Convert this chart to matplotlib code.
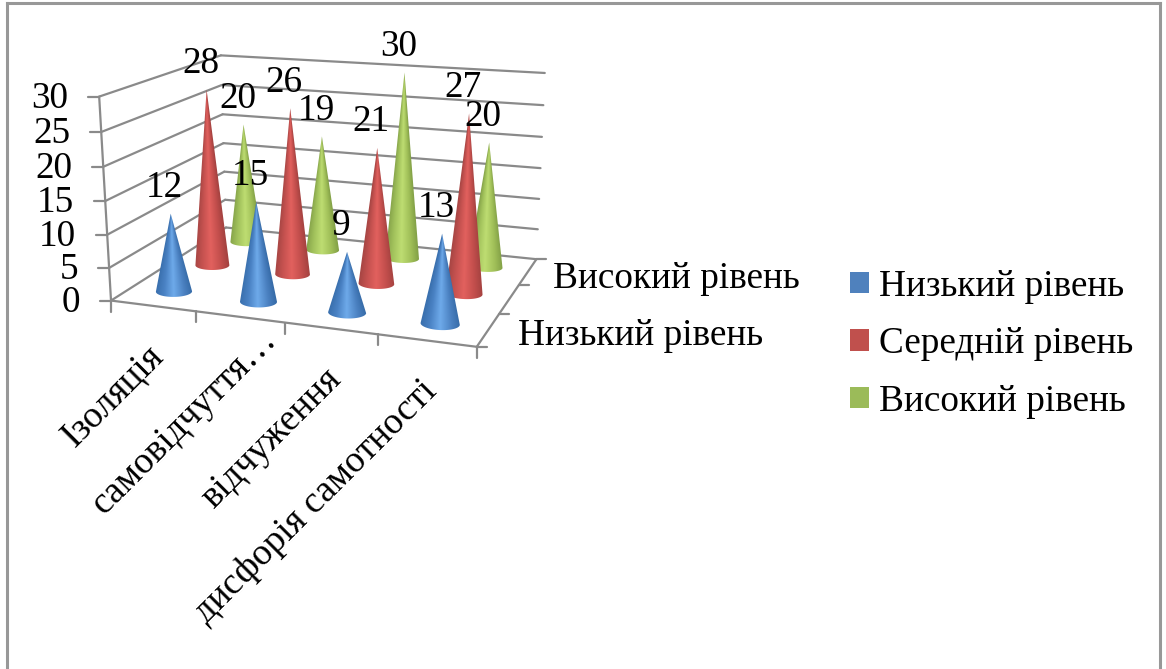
import matplotlib
matplotlib.use('Agg')
import matplotlib.pyplot as plt
import numpy as np
from matplotlib.colors import LinearSegmentedColormap
from matplotlib.patches import Patch, Polygon

# Data
categories = ['Ізоляція', 'самовідчуття…', 'відчуження', 'дисфорія самотності']
series_names = ['Низький рівень', 'Середній рівень', 'Високий рівень']
low = [12, 15, 9, 13]
mid = [28, 26, 21, 27]
high = [20, 19, 30, 20]
z_ticks = [0, 5, 10, 15, 20, 25, 30]

plt.rcParams['font.family'] = ['Liberation Serif', 'DejaVu Serif']
FS = 26.8
GRID = '#8a8a8a'

# camera: fit a projective matrix from the box corners seen in the picture
box_3d = [(0, 0, 0), (4, 0, 0), (4, 3, 0), (0, 3, 0), (0, 0, 30), (0, 3, 30), (4, 3, 30)]
box_px = [(110, 300), (477, 347), (536, 259), (227, 228), (100, 97), (220, 55), (545, 73)]
A = []
b = []
for (x, y, z), (u, v) in zip(box_3d, box_px):
    A.append([x, y, z, 1, 0, 0, 0, 0, -u * x, -u * y, -u * z])
    b.append(u)
    A.append([0, 0, 0, 0, x, y, z, 1, -v * x, -v * y, -v * z])
    b.append(v)
P = np.append(np.linalg.lstsq(np.array(A, float), np.array(b, float), rcond=None)[0], 1).reshape(3, 4)


def proj(x, y, z):
    h = P @ np.array([x, y, z, 1.0])
    return h[0] / h[2], h[1] / h[2]


def seg(ax, p, q, lw=1.6, z=2):
    ax.plot([p[0], q[0]], [p[1], q[1]], color=GRID, lw=lw, zorder=z, solid_capstyle='round')


def cone(ax, cx, cy, val, stops, order):
    t = np.linspace(0, 2 * np.pi, 121)[:-1]
    ring = np.array([proj(cx + 0.2 * np.cos(a), cy + 0.18 * np.sin(a), 0) for a in t])
    apex = proj(cx, cy, val)
    il, ir = ring[:, 0].argmin(), ring[:, 0].argmax()
    lo = [p for p in ring if p[1] >= ring[il][1] + (ring[ir][1] - ring[il][1]) * (p[0] - ring[il][0]) / (ring[ir][0] - ring[il][0])]
    lo = sorted(lo, key=lambda p: -p[0])
    poly = np.array([apex, ring[ir]] + lo + [ring[il]])
    base = ring.mean(axis=0)
    hw = (ring[ir][0] - ring[il][0]) / 2
    x0, x1 = poly[:, 0].min() - 1, poly[:, 0].max() + 1
    y0, y1 = poly[:, 1].min() - 1, poly[:, 1].max() + 1
    xs, ys = np.meshgrid(np.linspace(x0, x1, 160), np.linspace(y0, y1, 320))
    f = np.clip((ys - apex[1]) / (base[1] - apex[1]), 0.01, 1)
    u = (xs - (apex[0] + f * (base[0] - apex[0]))) / (f * hw)
    cmap = LinearSegmentedColormap.from_list('c', list(zip([0, 0.22, 0.48, 0.78, 1], stops)))
    im = ax.imshow(cmap(np.clip((u + 1) / 2, 0, 1)), extent=(x0, x1, y1, y0), aspect='auto',
                   zorder=order, interpolation='bilinear')
    patch = Polygon(poly, closed=True, transform=ax.transData, fc='none', ec='none')
    ax.add_patch(patch)
    im.set_clip_path(patch)
    return apex


fig = plt.figure(figsize=(11.66, 6.69), dpi=100)
ax = fig.add_axes([0, 0, 1, 1])
ax.axis('off')

# walls
for v in z_ticks:
    a, b2, c = proj(0, 0, v), proj(0, 3, v), proj(4, 3, v)
    seg(ax, a, b2)
    seg(ax, b2, c)
    seg(ax, a, (a[0] - 11, a[1]))
    ax.text(a[0] - 31, a[1] + 2, str(v), ha='right', va='center', fontsize=FS, zorder=30)
seg(ax, proj(0, 0, 0), proj(0, 0, 30))

# floor edges and ticks
seg(ax, proj(0, 0, 0), proj(4, 0, 0))
seg(ax, proj(4, 0, 0), proj(4, 3, 0))
for i in range(5):
    p = proj(i, 0, 0)
    seg(ax, p, (p[0], p[1] + 11))
for j in range(4):
    p = proj(4, j, 0)
    seg(ax, p, (p[0] + 10, p[1]))

# category labels, the cut one sits further along its slope
for i, name in enumerate(categories):
    p = proj(i + 0.5, 0, 0)
    slide = 27 if i == 1 else 0
    ax.text(p[0] - 7 + slide, p[1] + 33 - slide, name, rotation=45, rotation_mode='anchor',
            ha='right', va='top', fontsize=FS, zorder=30)

# series labels, the middle one is skipped
for j in (0, 2):
    p = proj(4, j + 0.5, 0)
    ax.text(p[0] + (30 if j == 0 else 25), p[1] + (6 if j == 0 else 7), series_names[j],
            ha='left', va='center', fontsize=FS, zorder=30)

# cones, back row first
stops = [
    ['#3a70ae', '#4a82c4', '#6eaaea', '#4a80c0', '#356aa6'],
    ['#a84644', '#c65250', '#e2615e', '#c24e4c', '#a44240'],
    ['#86a44a', '#a2c25c', '#bedd72', '#a0bf58', '#82a046'],
]
rows = [low, mid, high]
labels = []
for j in (2, 1, 0):
    for i in range(4):
        tip = cone(ax, i + 0.5, j + 0.5, rows[j][i], stops[j], 10 + (2 - j))
        labels.append((tip, rows[j][i]))
for tip, v in labels:
    ax.text(tip[0] - 6, tip[1] - 26, str(v), ha='center', va='center', fontsize=FS, zorder=31)

# legend
handles = [Patch(fc=c, ec='none') for c in ('#4f81bd', '#c0504d', '#9bbb59')]
ax.legend(handles, series_names, loc='center left', bbox_to_anchor=(850 / 1166, 1 - 344 / 669),
          frameon=False, fontsize=FS, handlelength=0.52, handleheight=0.52, handletextpad=0.27,
          labelspacing=0.62, borderpad=0, borderaxespad=0)

# chart frame, bottom edge is cut off
for p, q in [((7, 669), (7, 3)), ((7, 3), (1160, 3)), ((1160, 3), (1160, 669))]:
    ax.plot([p[0], q[0]], [p[1], q[1]], color='#989898', lw=2.2, zorder=40)

ax.set_xlim(0, 1166)
ax.set_ylim(669, 0)
fig.savefig('out.png', dpi=100)
